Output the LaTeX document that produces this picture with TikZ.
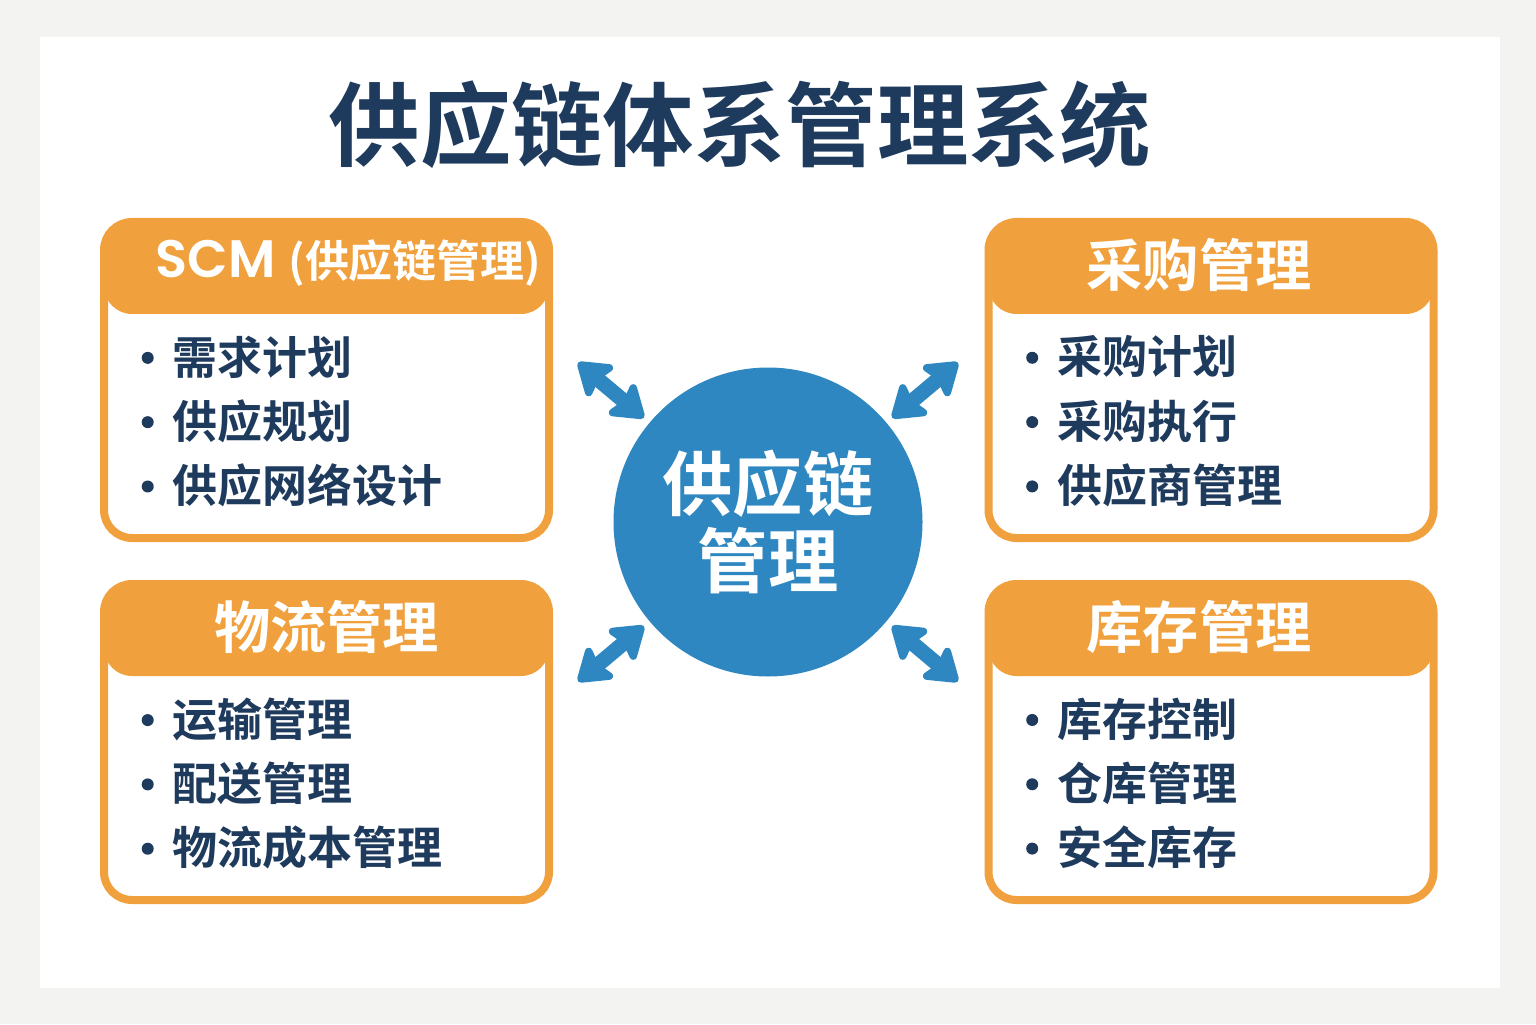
\documentclass[tikz,border=0pt]{standalone}
\usepackage{fontspec}
\setmainfont{Noto Sans CJK SC}[BoldFont={Noto Sans CJK SC Bold}]
\newfontfamily\poppins{Poppins}[BoldFont={Poppins SemiBold}]
\usetikzlibrary{arrows.meta, positioning}
\definecolor{PageGray}{HTML}{F3F3F1}
\definecolor{BoxOrange}{HTML}{F0A03C}
\definecolor{NavyText}{HTML}{1E3A5C}
\definecolor{HubBlue}{HTML}{2E87C0}
\newcommand{\bul}{\tikz[baseline=-4.6pt]\fill[NavyText] (0,0) circle (0.06cm);\hspace{0.19cm}}
\tikzset{
    % Section box with orange header band
    panel/.style={
        rectangle,
        draw=BoxOrange,
        fill=white,
        line width=0.08cm,
        rounded corners=0.28cm,
        minimum width=4.45cm,
        minimum height=3.16cm,
        path picture={\fill[BoxOrange] (path picture bounding box.north west) rectangle ([yshift=-0.92cm]path picture bounding box.north east);}
    },
    % Header text
    panelhead/.style={
        text=white,
        inner sep=0pt,
        font=\fontsize{16}{18}\selectfont\bfseries
    },
    % Item list
    itemlist/.style={
        text=NavyText,
        inner sep=0pt,
        align=left,
        font=\fontsize{12.8}{18.3}\selectfont\bfseries
    },
    % Central circle
    hub/.style={
        circle,
        fill=HubBlue,
        minimum size=3.09cm,
        text=white,
        align=center,
        font=\fontsize{20}{21.9}\selectfont\bfseries
    },
    % Double arrow
    biarrow/.style={
        {Stealth[length=0.36cm, width=0.48cm, inset=0.06cm, round]}-{Stealth[length=0.36cm, width=0.48cm, inset=0.06cm, round]},
        line width=0.15cm,
        draw=HubBlue
    }
}
\begin{document}
\begin{tikzpicture}
    % Page and sheet
    \fill[PageGray] (0,0) rectangle (15.36,10.24);
    \fill[white] (0.40,0.36) rectangle (15.00,9.87);

    \node (title) [text=NavyText, font=\fontsize{26}{30}\selectfont\bfseries] at (7.40,8.99) {供应链体系管理系统};

    \node (hubnode) [hub] at (7.68,5.02) {供应链\\管理};

    % Four boxes
    \node (scm) [panel] at (3.265,6.44) {};
    \node (buy) [panel] at (12.11,6.44) {};
    \node (logi) [panel] at (3.265,2.82) {};
    \node (stock) [panel] at (12.11,2.82) {};

    \node (scmh) [panelhead] at ([xshift=0.22cm, yshift=-0.45cm]scm.north) {{\poppins\fontsize{15}{18}\selectfont SCM} {\fontsize{12.5}{18}\selectfont (供应链管理)}};
    \node (buyh) [panelhead] at ([xshift=-0.12cm, yshift=-0.47cm]buy.north) {采购管理};
    \node (logih) [panelhead] at ([yshift=-0.47cm]logi.north) {物流管理};
    \node (stockh) [panelhead] at ([xshift=-0.12cm, yshift=-0.47cm]stock.north) {库存管理};

    \node (scml) [itemlist, anchor=north west] at ([xshift=0.41cm, yshift=-1.17cm]scm.north west) {\bul 需求计划\\\bul 供应规划\\\bul 供应网络设计};
    \node (buyl) [itemlist, anchor=north west] at ([xshift=0.41cm, yshift=-1.17cm]buy.north west) {\bul 采购计划\\\bul 采购执行\\\bul 供应商管理};
    \node (logil) [itemlist, anchor=north west] at ([xshift=0.41cm, yshift=-1.17cm]logi.north west) {\bul 运输管理\\\bul 配送管理\\\bul 物流成本管理};
    \node (stockl) [itemlist, anchor=north west] at ([xshift=0.41cm, yshift=-1.17cm]stock.north west) {\bul 库存控制\\\bul 仓库管理\\\bul 安全库存};

    % Arrows round the hub
    \foreach \a in {140,40,220,320}
        \draw [biarrow] ([shift={(\a:1.62)}]hubnode.center) -- ([shift={(\a:2.48)}]hubnode.center);
\end{tikzpicture}
\end{document}
